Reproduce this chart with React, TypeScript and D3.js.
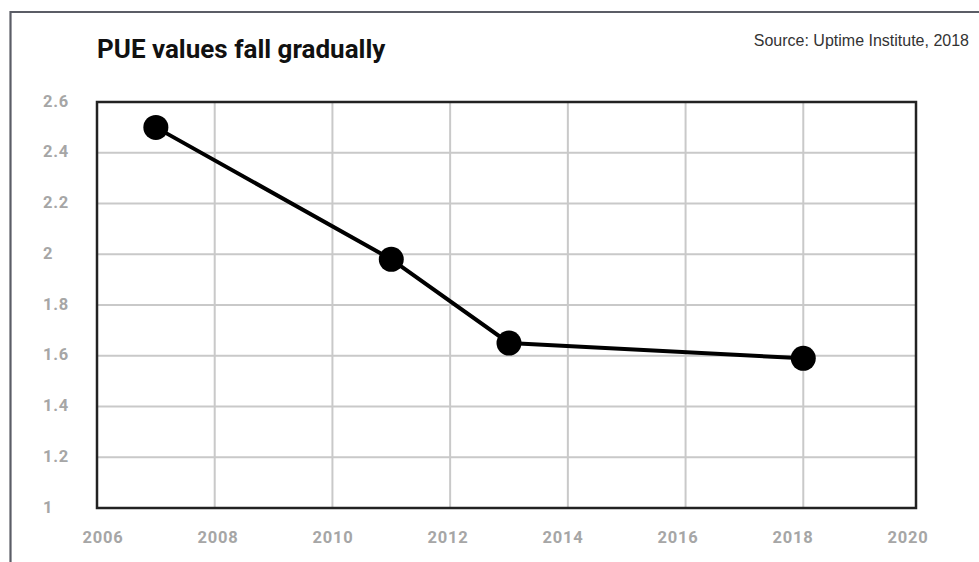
import React from "react";
import * as d3 from "d3";

const years = [2007, 2011, 2013, 2018];
const pue = [2.5, 1.98, 1.65, 1.59];
const xTicks = [2006, 2008, 2010, 2012, 2014, 2016, 2018, 2020];
const yTicks = [1, 1.2, 1.4, 1.6, 1.8, 2, 2.2, 2.4, 2.6];
const title = "PUE values fall gradually";
const source = "Source: Uptime Institute, 2018";

const W = 979;
const H = 562;

export default function App() {
  const x = d3.scaleLinear().domain([2006, 2020]).range([97, 921]);
  const xLabel = d3.scaleLinear().domain([2006, 2020]).range([103, 908]);
  const y = d3.scaleLinear().domain([1, 2.6]).range([508, 102]);
  const boxLeft = x(2006);
  const boxRight = x(2020) - 5;
  const line = d3
    .line<number>()
    .x((_, i) => x(years[i]))
    .y((d) => y(d));

  return (
    <svg
      width={W}
      height={H}
      style={{ position: "absolute", left: 0, top: 0, background: "#fff" }}
    >
      <rect x={0} y={0} width={W} height={H} fill="#fff" />
      {/* outer frame */}
      <path d={`M10.5,${H + 5} V12 H${W + 5}`} fill="none" stroke="#5b5d66" strokeWidth={2.2} />
      <text
        x={97}
        y={58}
        fontFamily="Roboto"
        fontWeight={700}
        fontSize={26}
        fill="#111"
      >
        {title}
      </text>
      <text
        x={969}
        y={46}
        textAnchor="end"
        fontFamily="Liberation Sans, Arial"
        fontSize={16}
        fill="#333"
      >
        {source}
      </text>
      {/* grid */}
      {xTicks
        .filter((t) => x(t) > boxLeft + 1 && x(t) < boxRight - 1)
        .map((t) => (
          <line key={"gx" + t} x1={x(t)} x2={x(t)} y1={y(2.6)} y2={y(1)} stroke="#c9c9c9" strokeWidth={2} />
        ))}
      {yTicks
        .filter((t) => t > 1 && t < 2.6)
        .map((t) => (
          <line key={"gy" + t} x1={boxLeft} x2={boxRight} y1={y(t)} y2={y(t)} stroke="#c9c9c9" strokeWidth={2} />
        ))}
      <rect
        x={boxLeft}
        y={y(2.6)}
        width={boxRight - boxLeft}
        height={y(1) - y(2.6)}
        fill="none"
        stroke="#222"
        strokeWidth={2.5}
      />
      {/* y labels */}
      {yTicks.map((t) => (
        <text
          key={"yl" + t}
          x={43}
          y={y(t) - 1}
          dominantBaseline="central"
          fontFamily="Roboto"
          fontWeight={700}
          fontSize={16.5}
          letterSpacing={0.8}
          fill="#a6a6a6"
        >
          {String(t)}
        </text>
      ))}
      {/* x labels */}
      {xTicks.map((t) => (
        <text
          key={"xl" + t}
          x={xLabel(t)}
          y={543}
          textAnchor="middle"
          fontFamily="Roboto"
          fontWeight={700}
          fontSize={16.5}
          letterSpacing={0.8}
          fill="#a6a6a6"
        >
          {t}
        </text>
      ))}
      <path d={line(pue) || ""} fill="none" stroke="#000" strokeWidth={4} strokeLinejoin="round" />
      {pue.map((v, i) => (
        <circle key={"p" + i} cx={x(years[i])} cy={y(v)} r={12.5} fill="#000" />
      ))}
    </svg>
  );
}
